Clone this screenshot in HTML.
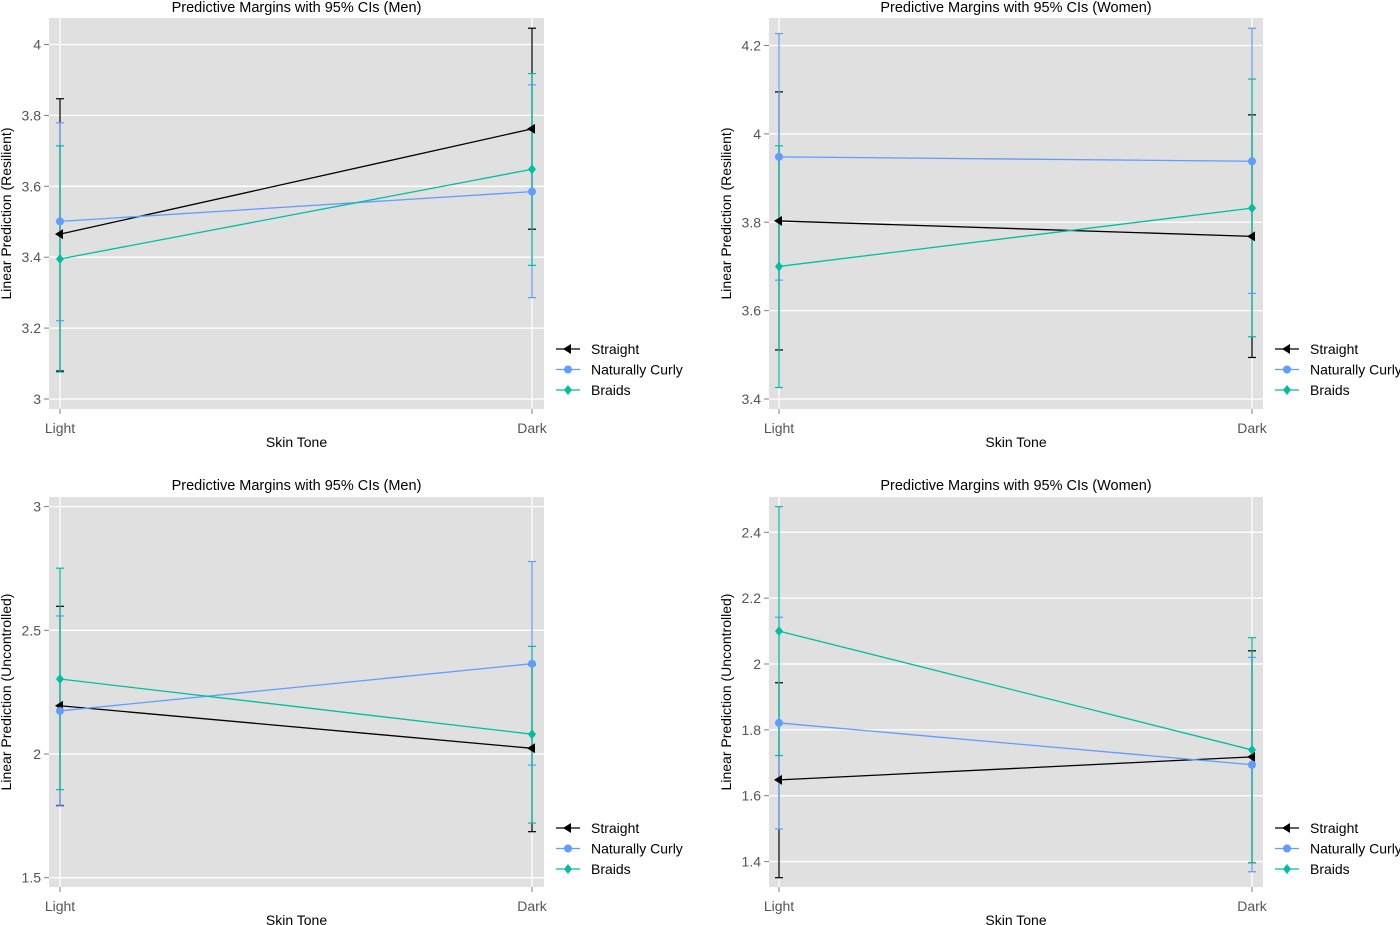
<!DOCTYPE html>
<html><head><meta charset="utf-8"><style>
body{margin:0;background:#fff;}
svg{display:block;font-family:"Liberation Sans",sans-serif;}
</style></head><body>
<svg id="fig" width="1400" height="925"></svg>
<script>
const categories = ["Light","Dark"];
const seriesNames = ["Straight","Naturally Curly","Braids"];
// Panel 1: Men, Resilient
const p1Straight = [3.465, 3.762], p1StraightLo = [3.079, 3.479], p1StraightHi = [3.847, 4.046];
const p1Curly = [3.501, 3.585], p1CurlyLo = [3.221, 3.286], p1CurlyHi = [3.779, 3.886];
const p1Braids = [3.395, 3.648], p1BraidsLo = [3.076, 3.377], p1BraidsHi = [3.714, 3.918];
const p1Ticks = [3, 3.2, 3.4, 3.6, 3.8, 4];
// Panel 2: Women, Resilient
const p2Straight = [3.803, 3.768], p2StraightLo = [3.511, 3.494], p2StraightHi = [4.095, 4.043];
const p2Curly = [3.948, 3.938], p2CurlyLo = [3.669, 3.639], p2CurlyHi = [4.227, 4.239];
const p2Braids = [3.700, 3.832], p2BraidsLo = [3.426, 3.541], p2BraidsHi = [3.973, 4.124];
const p2Ticks = [3.4, 3.6, 3.8, 4, 4.2];
// Panel 3: Men, Uncontrolled
const p3Straight = [2.195, 2.023], p3StraightLo = [1.792, 1.686], p3StraightHi = [2.597, 2.36];
const p3Curly = [2.174, 2.365], p3CurlyLo = [1.79, 1.955], p3CurlyHi = [2.558, 2.778];
const p3Braids = [2.303, 2.080], p3BraidsLo = [1.856, 1.721], p3BraidsHi = [2.751, 2.435];
const p3Ticks = [1.5, 2, 2.5, 3];
// Panel 4: Women, Uncontrolled
const p4Straight = [1.648, 1.718], p4StraightLo = [1.351, 1.396], p4StraightHi = [1.943, 2.040];
const p4Curly = [1.821, 1.694], p4CurlyLo = [1.499, 1.369], p4CurlyHi = [2.142, 2.020];
const p4Braids = [2.100, 1.739], p4BraidsLo = [1.722, 1.396], p4BraidsHi = [2.478, 2.080];
const p4Ticks = [1.4, 1.6, 1.8, 2, 2.2, 2.4];

const colors = ["#000000","#619CFF","#00BFA0"];
const NS = "http://www.w3.org/2000/svg";
const svg = document.getElementById("fig");
function mk(tag, attrs, parent){
  const e = document.createElementNS(NS, tag);
  for (const k in attrs) e.setAttribute(k, attrs[k]);
  (parent||svg).appendChild(e); return e;
}
function marker(g, kind, x, y, c){
  let m;
  if (kind===0) m = mk("polygon",{points:`${x-5},${y} ${x+3},${y-5} ${x+3},${y+5}`,fill:c},g);
  else if (kind===1) m = mk("circle",{cx:x,cy:y,r:4,fill:c},g);
  else m = mk("polygon",{points:`${x},${y-5} ${x+4},${y} ${x},${y+5} ${x-4},${y}`,fill:c},g);
  
  
}
function panel(cfg){
  const g = mk("g",{});
  
  
  const {L,R,T,B,xL,xD,v0,y0,v1,y1} = cfg;
  const ys = v => y0 + (v - v0) * (y1 - y0) / (v1 - v0);
  const xs = i => i===0 ? xL : xD;
  const bg = mk("rect",{x:L,y:T,width:R-L,height:B-T,fill:"#e0e0e0"},g);
   
  cfg.ticks.forEach(t=>{
    const y = ys(t);
    mk("line",{x1:L,x2:R,y1:y,y2:y,stroke:"#fff","stroke-width":1.3},g);
    mk("line",{x1:L-5,x2:L,y1:y,y2:y,stroke:"#7f7f7f"},g);
    const tx = mk("text",{x:L-8,y:y+5,"text-anchor":"end","font-size":14,fill:"#555"},g);
    tx.textContent = String(t);
     
  });
  categories.forEach((c,i)=>{
    const x = xs(i);
    mk("line",{x1:x,x2:x,y1:T,y2:B,stroke:"#fff","stroke-width":1.3},g);
    mk("line",{x1:x,x2:x,y1:B,y2:B+5,stroke:"#7f7f7f"},g);
    const tx = mk("text",{x:x,y:B+24,"text-anchor":"middle","font-size":14,fill:"#555"},g);
    tx.textContent = c;
     
  });
  cfg.series.forEach((s,k)=>{
    const c = colors[k];
    s.mid.forEach((v,i)=>{
      const x = xs(i);
      const eb = mk("line",{x1:x,x2:x,y1:ys(s.lo[i]),y2:ys(s.hi[i]),stroke:c,"stroke-width":1.2},g);
       
      mk("line",{x1:x-4,x2:x+4,y1:ys(s.lo[i]),y2:ys(s.lo[i]),stroke:c,"stroke-width":1.2},g);
      mk("line",{x1:x-4,x2:x+4,y1:ys(s.hi[i]),y2:ys(s.hi[i]),stroke:c,"stroke-width":1.2},g);
    });
  });
  cfg.series.forEach((s,k)=>{
    const c = colors[k];
    const ln = mk("polyline",{points:s.mid.map((v,i)=>xs(i)+","+ys(v)).join(" "),fill:"none",stroke:c,"stroke-width":1.3},g);
    
    
    s.mid.forEach((v,i)=>marker(g,k,xs(i),ys(v),c));
  });
  const cx = (L+R)/2;
  const ti = mk("text",{x:cx,y:cfg.titleY,"text-anchor":"middle","font-size":14.5,fill:"#000"},g);
  ti.textContent = cfg.title;  
  const xt = mk("text",{x:cx,y:B+38,"text-anchor":"middle","font-size":14,fill:"#000"},g);
  xt.textContent = "Skin Tone";  
  const yt = mk("text",{x:0,y:0,"text-anchor":"middle","font-size":14,fill:"#000",transform:`translate(${cfg.yTitleX},${(T+B)/2}) rotate(-90)`},g);
  yt.textContent = cfg.yTitle;  
  seriesNames.forEach((n,k)=>{
    const ly = cfg.legY + k*20.5;
    const lg = mk("g",{},g);
     
    mk("line",{x1:R+12,x2:R+36,y1:ly,y2:ly,stroke:colors[k],"stroke-width":1.3},lg);
    marker(lg,k,R+24,ly,colors[k]);
    const t = mk("text",{x:R+47,y:ly+5,"font-size":14,fill:"#000"},lg);
    t.textContent = n;
  });
}
panel({name:"panel-men-resilient",L:49,R:544,T:18,B:409,xL:60,xD:532,v0:3,y0:399,v1:4,y1:44.5,ticks:p1Ticks,
  title:"Predictive Margins with 95% CIs (Men)",titleY:12,yTitle:"Linear Prediction (Resilient)",yTitleX:11,legY:349,
  series:[{mid:p1Straight,lo:p1StraightLo,hi:p1StraightHi},{mid:p1Curly,lo:p1CurlyLo,hi:p1CurlyHi},{mid:p1Braids,lo:p1BraidsLo,hi:p1BraidsHi}]});
panel({name:"panel-women-resilient",L:769,R:1263,T:18,B:409,xL:779,xD:1252,v0:3.4,y0:399,v1:4.2,y1:45.5,ticks:p2Ticks,
  title:"Predictive Margins with 95% CIs (Women)",titleY:12,yTitle:"Linear Prediction (Resilient)",yTitleX:731,legY:349,
  series:[{mid:p2Straight,lo:p2StraightLo,hi:p2StraightHi},{mid:p2Curly,lo:p2CurlyLo,hi:p2CurlyHi},{mid:p2Braids,lo:p2BraidsLo,hi:p2BraidsHi}]});
panel({name:"panel-men-uncontrolled",L:49,R:544,T:497,B:887,xL:60,xD:532,v0:2,y0:754,v1:3,y1:506.6,ticks:p3Ticks,
  title:"Predictive Margins with 95% CIs (Men)",titleY:490,yTitle:"Linear Prediction (Uncontrolled)",yTitleX:11,legY:828,
  series:[{mid:p3Straight,lo:p3StraightLo,hi:p3StraightHi},{mid:p3Curly,lo:p3CurlyLo,hi:p3CurlyHi},{mid:p3Braids,lo:p3BraidsLo,hi:p3BraidsHi}]});
panel({name:"panel-women-uncontrolled",L:769,R:1263,T:497,B:887,xL:779,xD:1252,v0:2,y0:664,v1:2.4,y1:532.3,ticks:p4Ticks,
  title:"Predictive Margins with 95% CIs (Women)",titleY:490,yTitle:"Linear Prediction (Uncontrolled)",yTitleX:731,legY:828,
  series:[{mid:p4Straight,lo:p4StraightLo,hi:p4StraightHi},{mid:p4Curly,lo:p4CurlyLo,hi:p4CurlyHi},{mid:p4Braids,lo:p4BraidsLo,hi:p4BraidsHi}]});
</script>
</body></html>
